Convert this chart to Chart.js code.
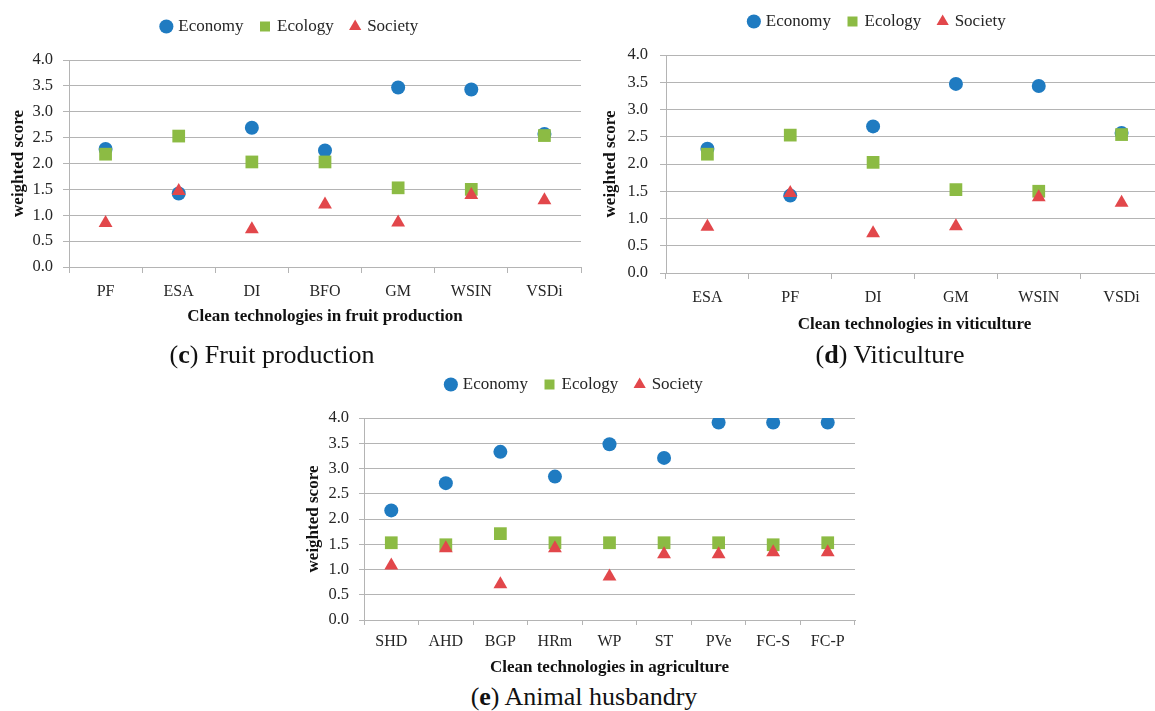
<!DOCTYPE html>
<html>
<head>
<meta charset="utf-8">
<script src="https://cdn.jsdelivr.net/npm/chart.js@4"></script>
<style>
  html, body { margin: 0; padding: 0; background: #fff; overflow: hidden; width: 1155px; height: 711px; }
  .box { position: absolute; }
  .caption { position: absolute; width: 400px; margin-left: -200px; text-align: center;
             font-family: "Liberation Serif", serif; font-size: 26px; color: #111; line-height: 1; }
</style>
</head>
<body>
<div class="box" style="left:0px;top:0px;width:590px;height:330px"><canvas id="chartFruit"></canvas></div>
<div class="box" style="left:592px;top:-5px;width:580px;height:343px"><canvas id="chartViti"></canvas></div>
<div class="box" style="left:295px;top:358px;width:570px;height:323px"><canvas id="chartAgri"></canvas></div>
<div class="caption" style="left:272px;top:342px">(<b>c</b>) Fruit production</div>
<div class="caption" style="left:890px;top:342px">(<b>d</b>) Viticulture</div>
<div class="caption" style="left:584px;top:684px">(<b>e</b>) Animal husbandry</div>
<script>
// values
const fruitLabels = ['PF', 'ESA', 'DI', 'BFO', 'GM', 'WSIN', 'VSDi'];
const fruitEconomy = [2.28, 1.42, 2.69, 2.25, 3.47, 3.43, 2.57];
const fruitEcology = [2.18, 2.53, 2.03, 2.03, 1.53, 1.50, 2.54];
const fruitSociety = [0.85, 1.47, 0.73, 1.21, 0.86, 1.39, 1.29];

const vitiLabels = ['ESA', 'PF', 'DI', 'GM', 'WSIN', 'VSDi'];
const vitiEconomy = [2.28, 1.42, 2.69, 3.47, 3.43, 2.57];
const vitiEcology = [2.18, 2.53, 2.03, 1.53, 1.50, 2.54];
const vitiSociety = [0.85, 1.47, 0.73, 0.86, 1.39, 1.29];

const agriLabels = ['SHD', 'AHD', 'BGP', 'HRm', 'WP', 'ST', 'PVe', 'FC-S', 'FC-P'];
const agriEconomy = [2.17, 2.71, 3.33, 2.84, 3.48, 3.21, 3.91, 3.91, 3.91];
const agriEcology = [1.53, 1.49, 1.71, 1.53, 1.53, 1.53, 1.53, 1.49, 1.53];
const agriSociety = [1.08, 1.42, 0.71, 1.42, 0.86, 1.30, 1.30, 1.34, 1.34];

const seriesNames = ['Economy', 'Ecology', 'Society'];
const scoreMin = 0, scoreMax = 4, scoreStep = 0.5;

const serif = 'Liberation Serif';
const gridColor = '#b4b4b4';

// extra room between legend and plot
const legendGap = {
  id: 'legendGap',
  beforeInit(chart) {
    const fit = chart.legend.fit;
    chart.legend.fit = function () {
      fit.bind(chart.legend)();
      this.height += 15;
    };
  },
};

const createChart = (id, labels, eco, ecol, soc, xTitle, g) => {
  new Chart(document.getElementById(id), {
    type: 'line',
    data: {
      labels,
      datasets: [
        { label: seriesNames[0], data: eco, order: 3, showLine: false, pointStyle: 'circle',
          pointRadius: 7, backgroundColor: '#1f7bc1', borderColor: '#1f7bc1', pointBorderWidth: 0 },
        { label: seriesNames[1], data: ecol, order: 2, showLine: false, pointStyle: 'rect',
          pointRadius: 9, backgroundColor: '#8cbb44', borderColor: '#8cbb44', pointBorderWidth: 0 },
        { label: seriesNames[2], data: soc, order: 1, showLine: false, pointStyle: 'triangle',
          pointRadius: 8, backgroundColor: '#e2474b', borderColor: '#e2474b', pointBorderWidth: 0 },
      ],
    },
    options: {
      responsive: true,
      maintainAspectRatio: false,
      animation: false,
      layout: { padding: { top: 0, left: 0, right: g.padRight, bottom: 0 } },
      plugins: {
        legend: {
          position: 'top',
          labels: {
            usePointStyle: true,
            boxWidth: 7,
            boxHeight: 10,
            padding: 18,
            color: '#262626',
            font: { family: serif, size: 17 },
            sort: (a, b) => a.datasetIndex - b.datasetIndex,
          },
        },
        tooltip: { enabled: false },
      },
      scales: {
        x: {
          offset: true,
          grid: { offset: true, drawOnChartArea: false, drawTicks: true, tickLength: g.xTick, color: gridColor },
          border: { color: gridColor },
          ticks: { padding: g.xTickPad, color: '#262626', font: { family: serif, size: 16 } },
          title: { display: true, text: xTitle, color: '#111', padding: { top: 0, bottom: 3 },
                   font: { family: serif, size: 17, weight: 'bold' } },
          afterFit: (scale) => { scale.height = g.xHeight; },
        },
        y: {
          min: scoreMin,
          max: scoreMax,
          grid: { color: gridColor, tickLength: g.yTick },
          border: { color: gridColor },
          ticks: { stepSize: scoreStep, padding: g.yTickPad, color: '#262626',
                   font: { family: serif, size: 16.5 }, callback: (v) => v.toFixed(1) },
          title: { display: true, text: 'weighted score', color: '#111', padding: { top: 8, bottom: 0 },
                   font: { family: serif, size: 17, weight: 'bold' } },
          afterFit: (scale) => { scale.width = g.yWidth; },
        },
      },
    },
    plugins: [legendGap],
  });
};

createChart('chartFruit', fruitLabels, fruitEconomy, fruitEcology, fruitSociety,
  'Clean technologies in fruit production',
  { padRight: 9, xHeight: 63, xTick: 6, xTickPad: 9, yWidth: 69, yTick: 6, yTickPad: 10 });

createChart('chartViti', vitiLabels, vitiEconomy, vitiEcology, vitiSociety,
  'Clean technologies in viticulture',
  { padRight: 8, xHeight: 65, xTick: 6, xTickPad: 9, yWidth: 74, yTick: 6, yTickPad: 12 });

createChart('chartAgri', agriLabels, agriEconomy, agriEcology, agriSociety,
  'Clean technologies in agriculture',
  { padRight: 10, xHeight: 61, xTick: 5, xTickPad: 7, yWidth: 69, yTick: 5, yTickPad: 10 });
</script>
</body>
</html>
